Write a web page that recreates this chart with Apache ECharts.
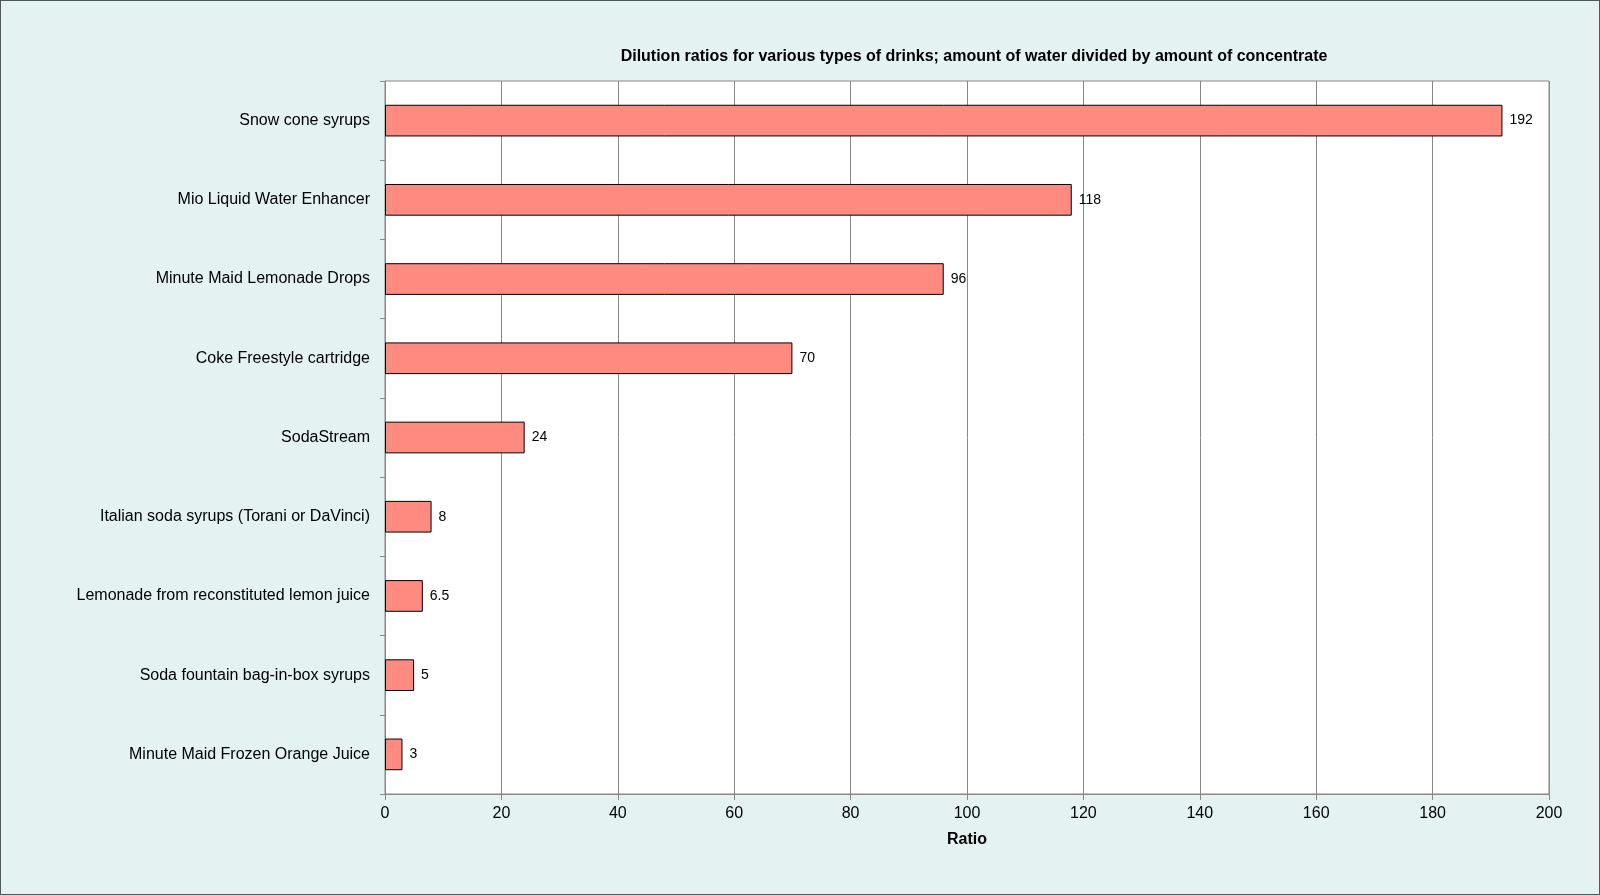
<!DOCTYPE html>
<html><head><meta charset="utf-8">
<script src="https://cdn.jsdelivr.net/npm/echarts@6/dist/echarts.min.js"></script>
<style>html,body{margin:0;padding:0;background:#e4f2f1}#c{width:1600px;height:895px;box-sizing:border-box;border:1px solid #555}</style>
</head><body><div id="c"></div>
<script>
// categories bottom to top
let categories = ["Minute Maid Frozen Orange Juice","Soda fountain bag-in-box syrups","Lemonade from reconstituted lemon juice","Italian soda syrups (Torani or DaVinci)","SodaStream","Coke Freestyle cartridge","Minute Maid Lemonade Drops","Mio Liquid Water Enhancer","Snow cone syrups"];
let ratios = [3,5,6.5,8,24,70,96,118,192];
let xTicks = {min:0,max:200,interval:20};

let chart = echarts.init(document.getElementById("c"));
chart.setOption({
	backgroundColor:"#e4f2f1",
	textStyle:{fontFamily:"Liberation Sans, Arial, sans-serif"},
	title:{text:"Dilution ratios for various types of drinks; amount of water divided by amount of concentrate",left:968,textAlign:"center",top:43,textStyle:{fontSize:16,fontWeight:"bold",color:"#000"}},
	grid:{left:384,right:50,top:80,bottom:100,backgroundColor:"#fff",show:true,borderColor:"#888",borderWidth:1},
	xAxis:{type:"value",min:xTicks.min,max:xTicks.max,interval:xTicks.interval,
		name:"Ratio",nameLocation:"middle",nameGap:38,nameTextStyle:{fontSize:16,fontWeight:"bold",color:"#000"},
		axisLine:{show:true,lineStyle:{color:"#888"}},axisTick:{show:true,length:6,lineStyle:{color:"#888"}},
		axisLabel:{fontSize:16,color:"#000",margin:12},
		splitLine:{lineStyle:{color:"#888"}}},
	yAxis:{type:"category",data:categories,
		axisLine:{show:true,lineStyle:{color:"#888"}},axisTick:{show:true,length:5,lineStyle:{color:"#888"}},
		axisLabel:{fontSize:16,color:"#000",margin:15}},
	series:[{type:"bar",data:ratios,barWidth:"40%",
		itemStyle:{color:"#ff8a80",borderColor:"#000",borderWidth:1},
		label:{show:true,position:"right",fontSize:14,color:"#000",distance:7}}]
});
</script></body></html>
